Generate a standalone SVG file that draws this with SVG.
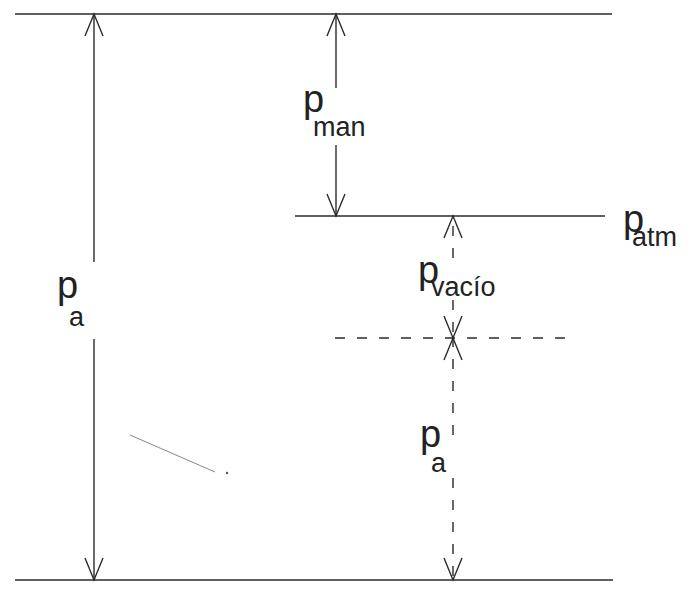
<svg xmlns="http://www.w3.org/2000/svg" width="693" height="595" viewBox="0 0 693 595">
  <style>
    .lvl { stroke: #2a2a2a; stroke-width: 1.6; fill: none; }
    .dim { stroke: #2a2a2a; stroke-width: 1.4; fill: none; marker-end: url(#ah); }
    .dash { stroke-dasharray: 10 12; }
    .p { font-family: "Liberation Sans", Arial, sans-serif; font-size: 38px; fill: #222; }
    .sub { font-family: "Liberation Sans", Arial, sans-serif; font-size: 27px; fill: #222; }
  </style>
  <defs>
    <marker id="ah" markerUnits="userSpaceOnUse" orient="auto" refX="0" refY="0" markerWidth="30" markerHeight="30" viewBox="-25 -12 30 24" overflow="visible">
      <path d="M-22,-9 L0,0 L-22,9" fill="none" stroke="#2a2a2a" stroke-width="1.4" stroke-dasharray="none"/>
    </marker>
  </defs>
  <rect width="693" height="595" fill="#ffffff"/>

  <g id="level-top">
    <line class="lvl" x1="15" y1="14" x2="612" y2="14"/>
  </g>
  <g id="level-atm">
    <line class="lvl" x1="295" y1="216" x2="605" y2="216"/>
  </g>
  <g id="level-abs-zero">
    <line class="lvl dash" x1="335" y1="338" x2="569" y2="338"/>
  </g>
  <g id="level-bottom">
    <line class="lvl" x1="15" y1="580" x2="613" y2="580"/>
  </g>

  <g id="connectors">
    <path class="dim" d="M94,262 L94,14"/>
    <path class="dim" d="M94,339 L94,580"/>
    <path class="dim" d="M336,88 L336,14"/>
    <path class="dim" d="M336,145 L336,216"/>
    <path class="dim dash" d="M453,258 L453,216"/>
    <path class="dim dash" d="M453,300 L453,338"/>
    <path class="dim dash" d="M453,435 L453,338"/>
    <path class="dim dash" d="M453,478 L453,580"/>
  </g>

  <g id="label-pa-left">
    <text class="p" x="57" y="298">p</text>
    <text class="sub" x="69" y="326">a</text>
  </g>
  <g id="label-pman">
    <text class="p" x="303" y="112">p</text>
    <text class="sub" x="313" y="136">man</text>
  </g>
  <g id="label-patm">
    <text class="p" x="623" y="232">p</text>
    <text class="sub" x="632" y="246">atm</text>
  </g>
  <g id="label-pvacio">
    <text class="p" x="418" y="283">p</text>
    <text class="sub" x="431" y="296">vacío</text>
  </g>
  <g id="label-pa-bottom">
    <text class="p" x="420" y="447">p</text>
    <text class="sub" x="431" y="472">a</text>
  </g>

  <g id="scan-mark">
    <line x1="130" y1="435" x2="215" y2="472" stroke="#888" stroke-width="1"/>
    <circle cx="227" cy="473" r="1.2" fill="#555"/>
  </g>
</svg>
